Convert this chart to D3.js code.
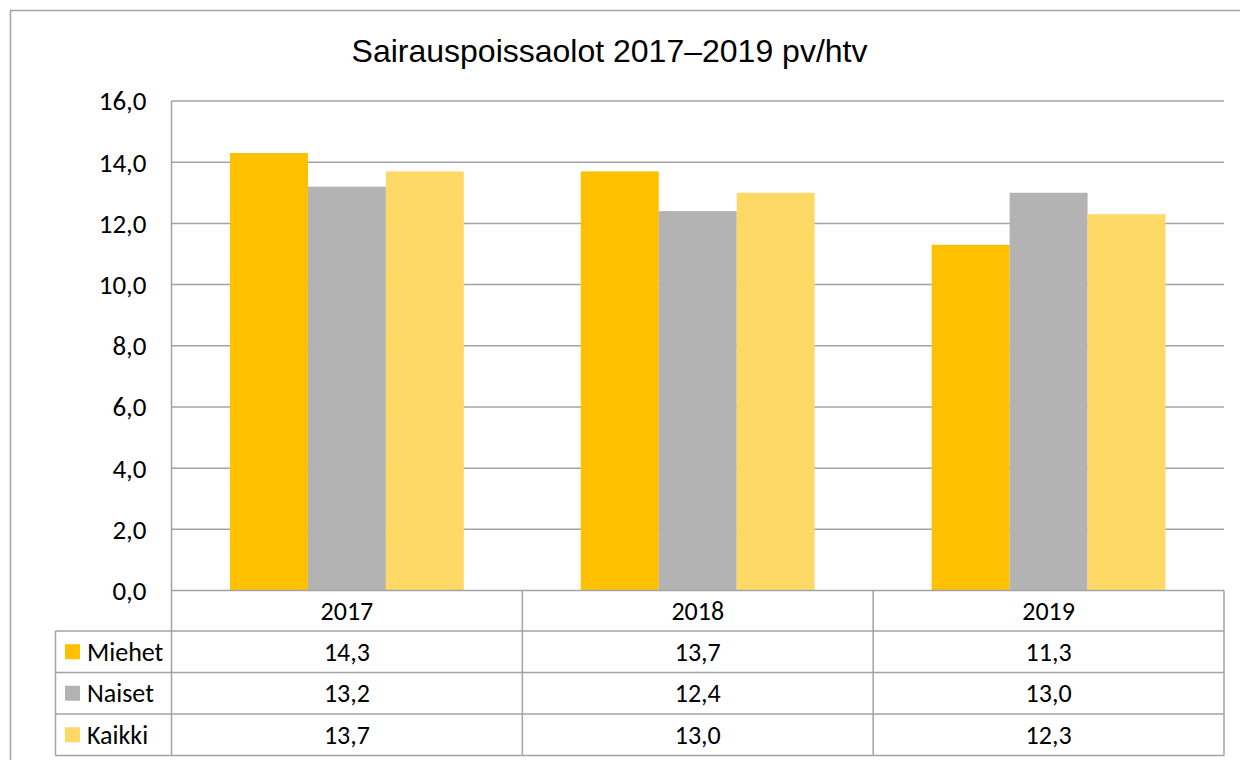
<!DOCTYPE html>
<html>
<head>
<meta charset="utf-8">
<script src="https://cdn.jsdelivr.net/npm/d3@7"></script>
<style>
  body { margin: 0; background: #fff; }
  text { fill: #000; }
</style>
</head>
<body>
<svg id="chart" width="1240" height="760"></svg>
<script>
const years = ['2017', '2018', '2019'];
const seriesNames = ['Miehet', 'Naiset', 'Kaikki'];
const miehet = [14.3, 13.7, 11.3];
const naiset = [13.2, 12.4, 13.0];
const kaikki = [13.7, 13.0, 12.3];
const yTicks = [0, 2, 4, 6, 8, 10, 12, 14, 16];
const title = 'Sairauspoissaolot 2017–2019 pv/htv';

const colors = ['#FFC000', '#B3B3B3', '#FFD966'];
const seriesValues = [miehet, naiset, kaikki];

const svg = d3.select('#chart');
const margin = { top: 101, left: 171.5, right: 16, bottom: 169.5 };
const innerWidth = 1240 - margin.left - margin.right;
const innerHeight = 760 - margin.top - margin.bottom;
const lineColor = '#a3a3a3';
const font = 'Carlito, Calibri, Lato, sans-serif';
const fmt = d => d3.format('.1f')(d).replace('.', ',');

// outer frame
svg.append('path')
    .attr('d', 'M10.5,770 V10.5 H1250')
    .attr('fill', 'none').attr('stroke', lineColor).attr('stroke-width', 1.5);

svg.append('text')
    .attr('x', 609.5).attr('y', 62)
    .attr('text-anchor', 'middle')
    .style('font-family', 'Arial, "Liberation Sans", sans-serif')
    .style('font-size', '32px')
    .text(title);

const g = svg.append('g').attr('transform', `translate(${margin.left},${margin.top})`);

const x = d3.scaleBand().domain(years).range([0, innerWidth]);
const x1 = d3.scaleBand().domain(seriesNames).range([58.5, x.bandwidth() - 58.5]);
const y = d3.scaleLinear().domain([0, 16]).range([innerHeight, 0]);

// gridlines
g.selectAll('.grid').data(yTicks.slice(1)).enter().append('line')
    .attr('x1', 0).attr('x2', innerWidth)
    .attr('y1', d => y(d)).attr('y2', d => y(d))
    .attr('stroke', lineColor).attr('stroke-width', 1.5);

// y labels
g.selectAll('.ylab').data(yTicks).enter().append('text')
    .attr('x', -25).attr('y', d => y(d)).attr('dy', '0.35em')
    .attr('text-anchor', 'end')
    .style('font-family', font).style('font-size', '27px')
    .text(fmt);

// bars
seriesNames.forEach((s, si) => {
    g.selectAll('.bar' + si).data(seriesValues[si]).enter().append('rect')
        .attr('x', (d, i) => x(years[i]) + x1(s))
        .attr('width', x1.bandwidth())
        .attr('y', d => y(d))
        .attr('height', d => y(0) - y(d))
        .attr('fill', colors[si]);
});

// data table
const rowH = 41.5;
const legendLeft = 55.5 - margin.left;
const tbl = g.append('g').attr('transform', `translate(0,${innerHeight})`);
const hl = (x1p, x2p, yp) => tbl.append('line').attr('x1', x1p).attr('x2', x2p).attr('y1', yp).attr('y2', yp)
    .attr('stroke', lineColor).attr('stroke-width', 1.5);
const vl = (xp, y1p, y2p) => tbl.append('line').attr('x1', xp).attr('x2', xp).attr('y1', y1p).attr('y2', y2p)
    .attr('stroke', lineColor).attr('stroke-width', 1.5);

hl(0, innerWidth, 0);
for (let r = 1; r <= 4; r++) hl(legendLeft, innerWidth, r * rowH - 1);
vl(legendLeft, rowH - 1, 4 * rowH - 1);
vl(0, -innerHeight, 4 * rowH - 1);
years.forEach(yr => vl(x(yr) + x.bandwidth(), 0, 4 * rowH - 1));

tbl.selectAll('.yr').data(years).enter().append('text')
    .attr('x', d => x(d) + x.bandwidth() / 2).attr('y', rowH / 2).attr('dy', '0.35em')
    .attr('text-anchor', 'middle')
    .style('font-family', font).style('font-size', '26px')
    .text(d => d);

seriesNames.forEach((s, si) => {
    const cy = (si + 1.5) * rowH - 1;
    tbl.append('rect')
        .attr('x', 65 - margin.left).attr('y', cy - 7.5)
        .attr('width', 15).attr('height', 15).attr('fill', colors[si]);
    tbl.append('text')
        .attr('x', 87 - margin.left).attr('y', cy).attr('dy', '0.35em')
        .style('font-family', font).style('font-size', '26px')
        .text(s);
    tbl.selectAll('.val' + si).data(seriesValues[si]).enter().append('text')
        .attr('x', (d, i) => x(years[i]) + x.bandwidth() / 2).attr('y', cy).attr('dy', '0.35em')
        .attr('text-anchor', 'middle')
        .style('font-family', font).style('font-size', '26px')
        .text(fmt);
});
</script>
</body>
</html>
